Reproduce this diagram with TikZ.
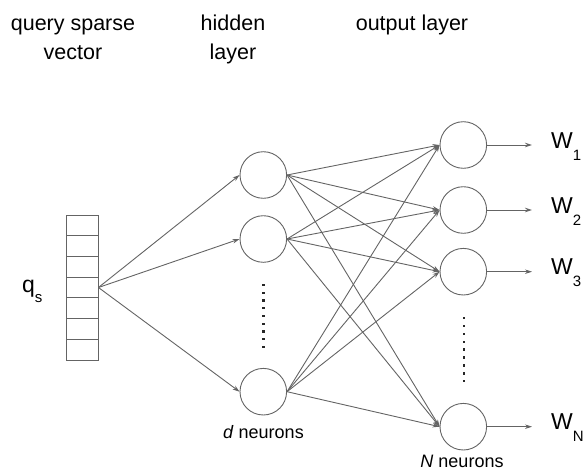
\documentclass[tikz,border=0pt]{standalone}
\usepackage{fontspec}
\setmainfont{Liberation Sans}
\usetikzlibrary{arrows.meta}
\definecolor{linegray}{RGB}{100,100,100}
\begin{document}
\begin{tikzpicture}[x=1pt,y=-1pt,
  neuron/.style={circle, draw=linegray, line width=0.9pt, minimum size=46.6pt, inner sep=0pt},
  conn/.style={draw=linegray, line width=0.9pt, -{Stealth[length=7pt,width=4.5pt]}},
  hdr/.style={inner sep=0pt, anchor=base, font=\fontsize{21.5}{26}\selectfont},
  lbl/.style={inner sep=0pt, anchor=base, font=\fontsize{18}{22}\selectfont},
  wlbl/.style={inner sep=0pt, anchor=base west, font=\fontsize{23}{26}\selectfont},
  dotcol/.style={fill=black!85}
]
\useasboundingbox (0,0) rectangle (587,474);
% headers
\node[hdr] (t1a) at (73,30) {query sparse};
\node[hdr] (t1b) at (73,59) {vector};
\node[hdr] (t2a) at (233,30) {hidden};
\node[hdr] (t2b) at (233,59) {layer};
\node[hdr] (t3a) at (412,30) {output layer};
% input vector
\node[draw=linegray, line width=0.9pt, minimum width=32pt, minimum height=145pt, inner sep=0pt] (vec) at (82,287.5) {};
\foreach \i in {1,...,6} {
  \draw[linegray, line width=0.9pt] (66,215+\i*20.714) -- (98,215+\i*20.714);
}
\node[wlbl] (qs) at (22,292) {q\raisebox{-10pt}{\fontsize{15}{15}\selectfont s}};
% hidden
\node[neuron] (h1) at (263.3,175) {};
\node[neuron] (h2) at (263.3,239) {};
\node[neuron] (hd) at (263.3,391.7) {};
\foreach \k in {0,...,8} { \fill[dotcol] (262.1,283.8+\k*7.75) rectangle ++(2.4,2.4); }
% output
\node[neuron] (o1) at (463.3,145) {};
\node[neuron] (o2) at (463.3,210) {};
\node[neuron] (o3) at (463.3,271.7) {};
\node[neuron] (oN) at (463.3,426.7) {};
\foreach \k in {0,...,8} { \fill[dotcol] (462.8,316.8+\k*7.9) rectangle ++(2.4,2.4); }
% input connections
\foreach \h in {h1,h2,hd} { \draw[conn] (vec.east) -- (\h.west); }
% hidden to output
\foreach \h in {h1,h2,hd} {
  \foreach \o in {o1,o2,o3,oN} { \draw[conn] (\h.east) -- (\o.west); }
}
% output labels
\node[wlbl] (w1) at (551,148) {W\raisebox{-12pt}{\fontsize{15}{15}\selectfont 1}};
\node[wlbl] (w2) at (551,213) {W\raisebox{-12pt}{\fontsize{15}{15}\selectfont 2}};
\node[wlbl] (w3) at (551,274.7) {W\raisebox{-12pt}{\fontsize{15}{15}\selectfont 3}};
\node[wlbl] (wN) at (551,429.7) {W\raisebox{-12pt}{\fontsize{15}{15}\selectfont N}};
\coordinate (e1) at (532,145);
\coordinate (e2) at (532,210);
\coordinate (e3) at (532,271.7);
\coordinate (eN) at (532,426.7);
\draw[conn] (o1.east) -- (e1);
\draw[conn] (o2.east) -- (e2);
\draw[conn] (o3.east) -- (e3);
\draw[conn] (oN.east) -- (eN);
% neuron counts
\node[lbl] (dn) at (263.5,438) {\textit{d} neurons};
\node[lbl] (nn) at (462,467) {\textit{N} neurons};
\end{tikzpicture}
\end{document}
